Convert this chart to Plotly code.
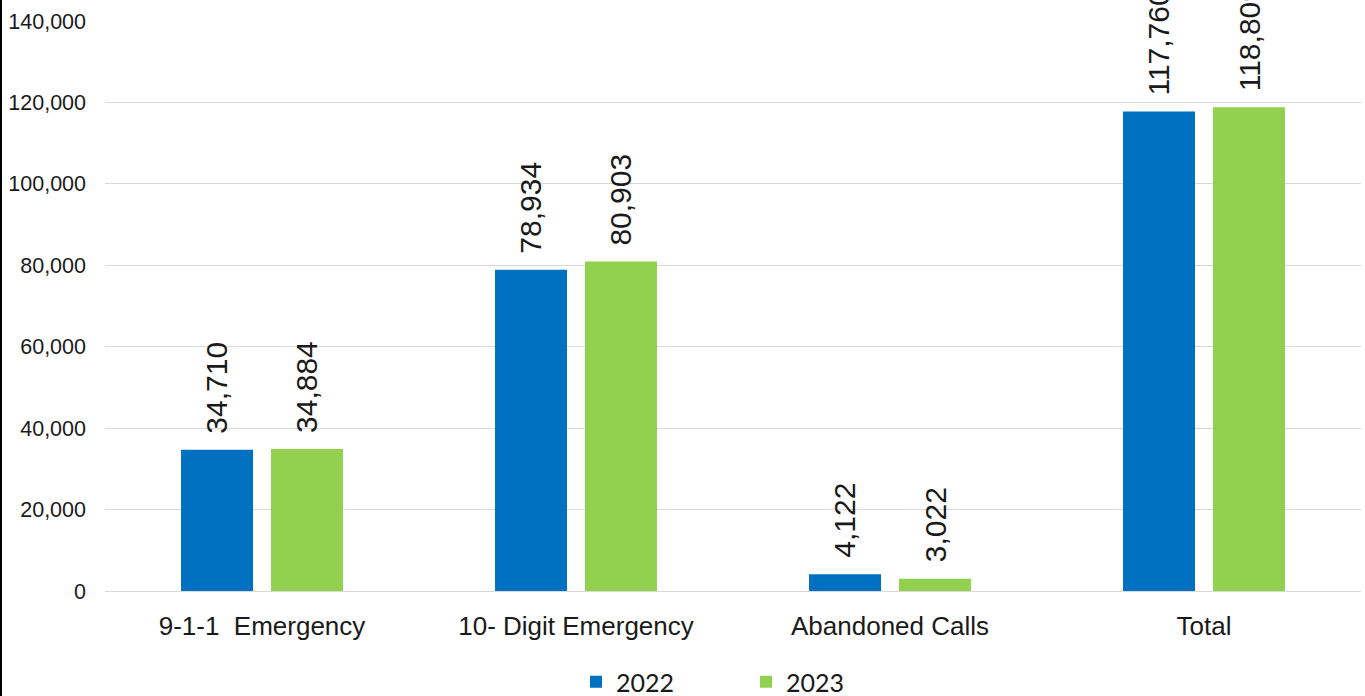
import plotly.graph_objects as go

categories = ["9-1-1  Emergency", "10- Digit Emergency", "Abandoned Calls", "Total"]
values_2022 = [34710, 78934, 4122, 117760]
values_2023 = [34884, 80903, 3022, 118809]
series_names = ["2022", "2023"]
colors = ["#0070C0", "#92D050"]
y_ticks = [0, 20000, 40000, 60000, 80000, 100000, 120000, 140000]

W, H = 1365, 696
L, R, T, B = 105, 4, 21, 105
plot_w = W - L - R
plot_h = H - T - B

fig = go.Figure()
for name, vals, col in zip(series_names, [values_2022, values_2023], colors):
    fig.add_trace(go.Bar(x=categories, y=vals, name=name, marker_color=col,
                         marker_line_width=0))

# value labels as rotated annotations above each bar
offsets = [-45, 45]
for vals, off in zip([values_2022, values_2023], offsets):
    for c, v in zip(categories, vals):
        fig.add_annotation(x=c, y=v, xref="x", yref="y", text=f"{v:,}",
                           textangle=-90, showarrow=False, xanchor="center",
                           yanchor="bottom", xshift=off, yshift=14,
                           font=dict(family="Liberation Sans, Arial", size=30, color="#1a1a1a"))

# left border line
fig.add_shape(type="line", xref="paper", yref="paper",
              x0=-(L - 1) / plot_w, x1=-(L - 1) / plot_w,
              y0=-(B) / plot_h, y1=(plot_h + T) / plot_h,
              line=dict(color="#000000", width=2))

fig.update_layout(
    width=W, height=H,
    margin=dict(l=L, r=R, t=T, b=B, autoexpand=False),
    paper_bgcolor="white", plot_bgcolor="white",
    barmode="group", bargap=0.427, bargroupgap=0.2,
    font=dict(family="Liberation Sans, Arial", color="#1a1a1a"),
    showlegend=True,
    legend=dict(orientation="h", x=(576 - L) / plot_w, xanchor="left",
                y=-(682 - (H - B)) / plot_h, yanchor="middle",
                font=dict(family="Lato, Carlito, sans-serif", size=25, color="#1a1a1a"),
                entrywidth=125, bgcolor="rgba(0,0,0,0)"),
    xaxis=dict(showgrid=False, showline=False, ticks="",
               tickfont=dict(size=26), ticklabelstandoff=17),
    yaxis=dict(range=[0, 140000], tickvals=y_ticks, tickformat=",d",
               showgrid=True, gridcolor="#d9d9d9", gridwidth=1,
               zeroline=True, zerolinecolor="#d9d9d9", zerolinewidth=1,
               showline=False, ticks="", tickfont=dict(size=21.5),
               ticklabelstandoff=18),
)

fig.write_html("out.html", config={"displayModeBar": False},
               post_script="document.body.style.margin='0';document.body.style.overflow='hidden';")
